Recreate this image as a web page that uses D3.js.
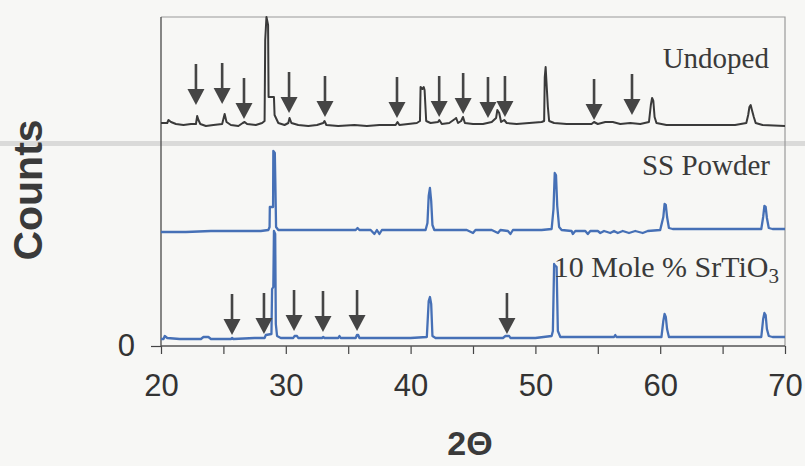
<!DOCTYPE html>
<html>
<head>
<meta charset="utf-8">
<script src="https://cdn.jsdelivr.net/npm/d3@7"></script>
<style>
  body { margin:0; background:#f7f7f5; }
  svg { display:block; }
</style>
</head>
<body>
<div id="chart"></div>
<script>
// 2-theta range and ticks
var xDomain = [20, 70];
var xMajorTicks = [20, 30, 40, 50, 60, 70];
var xMinorTicks = [25, 35, 45, 55, 65];
var yTicks = [0];

// vertical offsets of each pattern (counts, stacked)
var offsets = [221, 115, 7];
var seriesNames = ["Undoped", "SS Powder", "10 Mole % SrTiO3"];

// [2theta, counts above own baseline]
var undoped = [
  [20.0,2],[20.5,2],[20.6,5],[20.8,3],[21.2,1],[21.8,0],[22.4,1],[22.8,1],[22.9,9],[23.0,5],[23.15,1],[23.6,-1],
  [24.2,0],[24.9,1],[25.0,6],[25.1,11],[25.25,3],[25.6,0],[26.2,-1],[26.55,2],[26.7,3],[26.9,1],[27.6,0],
  [28.1,2],[28.3,4],[28.35,85],[28.45,108],[28.58,100],[28.62,28],[29.05,28],[29.1,10],[29.4,2],[29.9,0],
  [30.2,2],[30.3,7],[30.45,2],[31.0,0],[31.8,-1],[32.5,0],[33.0,2],[33.1,4],[33.25,0],[34.2,-1],[35.5,0],
  [36.5,-1],[37.5,0],[38.8,0],[38.95,3],[39.1,0],[39.8,1],[40.5,2],[40.75,4],[40.8,38],[40.95,36],[41.05,38],
  [41.12,35],[41.25,4],[41.6,2],[42.2,3],[42.3,5],[42.5,1],[43.1,2],[43.55,6],[43.65,7],[43.8,2],[44.05,4],
  [44.2,8],[44.35,2],[45.0,1],[45.8,1],[46.5,3],[46.85,7],[46.95,15],[47.1,12],[47.25,3],[47.5,5],[47.7,2],
  [48.5,1],[49.5,2],[50.5,3],[50.7,4],[50.75,48],[50.82,58],[50.9,40],[51.0,18],[51.1,4],[51.5,2],[52.5,1],
  [53.5,1],[54.5,1],[54.7,3],[55.0,1],[55.6,3],[56.2,3],[56.8,1],[57.6,2],[58.4,1],[59.1,3],[59.25,20],
  [59.35,27],[59.45,24],[59.55,8],[59.7,2],[60.5,0],[62,0],[64,0],[66,0],[66.9,2],[67.05,10],[67.15,18],
  [67.25,20],[67.35,15],[67.5,8],[67.65,2],[68.2,0],[70,-1]
];
var ssPowder = [
  [20.0,-1],[22,-1],[24,0],[26,0],[28,0],[28.6,1],[28.7,4],[28.72,24],[28.98,24],[29.0,80],[29.12,78],
  [29.16,50],[29.22,4],[29.4,1],[30.5,1],[32,1],[34,1],[35.6,1],[35.75,3],[35.9,1],[36.8,1],[37.1,-3],
  [37.3,1],[37.5,-3],[37.7,1],[39,1],[40.5,1],[41.2,1],[41.35,8],[41.45,35],[41.55,43],[41.65,30],[41.75,6],
  [41.9,1],[43,1],[44.5,1],[45.0,-2],[45.2,1],[46.5,1],[47,-2],[47.2,1],[47.8,0],[48,-3],[48.2,1],[49,1],
  [50.5,1],[51.3,2],[51.45,22],[51.55,58],[51.65,56],[51.75,25],[51.9,4],[52.1,1],[52.9,0],[53.0,-3],
  [53.2,0],[54.0,0],[54.2,-3],[54.4,0],[55,0],[55.2,-2],[55.5,0],[56,-2],[56.3,0],[56.6,-2],[57,0],
  [57.5,-2],[58,0],[58.6,-2],[59,0],[60.0,1],[60.25,14],[60.35,27],[60.45,26],[60.55,14],[60.7,3],[61,2],
  [63,2],[65,2],[67,2],[68.1,2],[68.25,14],[68.35,25],[68.45,24],[68.55,13],[68.7,3],[69,2],[70,2]
];
var srTiO3 = [
  [20,0],[20.2,0],[20.3,3],[20.5,1],[21.5,0],[23.2,0],[23.4,2],[23.8,2],[24.0,0],[25.6,0],[25.7,1],[25.8,0],
  [27.5,1],[28.3,1],[28.4,4],[28.85,5],[28.9,50],[29.0,52],[29.05,108],[29.15,105],[29.2,15],[29.3,3],
  [29.6,1],[30.6,1],[30.7,3],[30.9,3],[31,1],[32.9,1],[33.0,2],[33.1,1],[34.2,1],[34.3,3],[34.4,1],
  [35.6,1],[35.7,4],[35.8,4],[35.9,1],[38,1],[40,1],[41.3,2],[41.45,38],[41.55,42],[41.65,35],[41.75,3],
  [42,1],[44,1],[46,1],[47.4,1],[47.6,3],[47.9,3],[48.0,1],[50,1],[51.3,3],[51.4,8],[51.5,75],[51.6,73],
  [51.7,72],[51.8,8],[52,2],[54,2],[56.3,2],[56.4,4],[56.5,2],[58,2],[60.1,2],[60.25,18],[60.35,25],
  [60.45,22],[60.55,10],[60.7,2],[63,2],[66,2],[68.1,2],[68.25,20],[68.35,26],[68.45,24],[68.55,10],
  [68.7,3],[69,2],[70,2]
];

// arrow markers: [2theta, counts at tip (above own baseline)]
var undopedArrows = [
  [22.8,20],[24.9,21],[26.65,6],[30.26,12],[33.14,8],[38.91,7],[42.29,8],[44.21,11],[46.2,7],[47.56,8],
  [54.7,5],[57.74,10]
];
var srTiO3Arrows = [[25.69,4],[28.25,5],[30.66,8],[32.98,7],[35.71,8],[47.72,5]];

var width = 805, height = 466;

var svg = d3.select("#chart").append("svg")
    .attr("width", width)
    .attr("height", height);

svg.append("rect")
    .attr("width", width)
    .attr("height", height)
    .attr("fill", "#f7f7f5");

var x = d3.scaleLinear().domain(xDomain).range([161, 785]);
var y = d3.scaleLinear().domain([0, 329]).range([346, 17]);

// scan streak across the page
svg.append("rect")
    .attr("x", 0).attr("y", 141)
    .attr("width", width).attr("height", 5)
    .attr("fill", "#d2d2d2")
    .attr("opacity", 0.8);

// frame
svg.append("path")
    .attr("d", "M" + x(20) + "," + y(329) + "H" + x(70) + "V" + y(0))
    .attr("fill", "none")
    .attr("stroke", "#9a9a9a")
    .attr("stroke-width", 1.2);

// x axis
var xAxis = svg.append("g")
    .attr("transform", "translate(0," + y(0) + ")")
    .call(d3.axisBottom(x)
        .tickValues(xMajorTicks.concat(xMinorTicks))
        .tickSize(8)
        .tickPadding(20)
        .tickFormat(function (d) { return xMajorTicks.indexOf(d) >= 0 ? d : ""; }));
xAxis.select(".domain").remove();
xAxis.selectAll("line").attr("stroke", "#444").attr("stroke-width", 1.2);
xAxis.selectAll("text")
    .attr("fill", "#333")
    .style("font-family", "'Liberation Sans', Arial, sans-serif")
    .style("font-size", "31px");

// y axis
var yAxis = svg.append("g")
    .attr("transform", "translate(" + x(20) + ",0)")
    .call(d3.axisLeft(y).tickValues(yTicks).tickSize(10).tickPadding(16));
yAxis.select(".domain").remove();
yAxis.selectAll("line").attr("stroke", "#444").attr("stroke-width", 1.2);
yAxis.selectAll("text")
    .attr("fill", "#333")
    .style("font-family", "'Liberation Sans', Arial, sans-serif")
    .style("font-size", "31px");

// axis lines
svg.append("line")
    .attr("x1", x(20)).attr("x2", x(70))
    .attr("y1", y(0)).attr("y2", y(0))
    .attr("stroke", "#555").attr("stroke-width", 1.6);
svg.append("line")
    .attr("x1", x(20)).attr("x2", x(20))
    .attr("y1", y(329)).attr("y2", y(0))
    .attr("stroke", "#555").attr("stroke-width", 1.4);

// patterns
var patterns = [
    {data: undoped, off: offsets[0], color: "#3a3a3a", w: 2},
    {data: ssPowder, off: offsets[1], color: "#4670b6", w: 2.3},
    {data: srTiO3, off: offsets[2], color: "#4670b6", w: 2.3}
];
patterns.forEach(function (p) {
    var line = d3.line()
        .x(function (d) { return x(d[0]); })
        .y(function (d) { return y(p.off + d[1]); });
    svg.append("path")
        .datum(p.data)
        .attr("d", line)
        .attr("fill", "none")
        .attr("stroke", p.color)
        .attr("stroke-width", p.w)
        .attr("stroke-linejoin", "round");
});

// arrows
function drawArrows(list, off) {
    var g = svg.append("g").attr("fill", "#454545");
    list.forEach(function (a) {
        var tx = x(a[0]), ty = y(off + a[1]);
        g.append("rect")
            .attr("x", tx - 1.3).attr("y", ty - 41)
            .attr("width", 2.6).attr("height", 28);
        g.append("path")
            .attr("d", "M" + (tx - 8.5) + "," + (ty - 16) + "L" + (tx + 8.5) + "," + (ty - 16) + "L" + tx + "," + ty + "Z");
    });
}
drawArrows(undopedArrows, offsets[0]);
drawArrows(srTiO3Arrows, offsets[2]);

// series labels
var labelFont = "'Liberation Serif', 'Times New Roman', serif";
var labelPos = [[769, 68], [770, 175], [779, 277]];
seriesNames.forEach(function (name, i) {
    var t = svg.append("text")
        .attr("x", labelPos[i][0]).attr("y", labelPos[i][1])
        .attr("text-anchor", "end")
        .attr("fill", "#3a3a3a")
        .style("font-family", labelFont)
        .style("font-size", "29px");
    if (name.slice(-1) === "3") {
        t.style("font-size", "30px");
        t.append("tspan").text(name.slice(0, -1));
        t.append("tspan").attr("dy", 6).style("font-size", "21px").text("3");
    } else {
        t.text(name);
    }
});

// axis titles
svg.append("text")
    .attr("transform", "translate(42,190) rotate(-90)")
    .attr("text-anchor", "middle")
    .attr("fill", "#3a3a3a")
    .style("font-family", "'Liberation Sans', Arial, sans-serif")
    .style("font-weight", "bold")
    .style("font-size", "41px")
    .text("Counts");

svg.append("text")
    .attr("x", 470).attr("y", 455)
    .attr("text-anchor", "middle")
    .attr("fill", "#3a3a3a")
    .style("font-family", "'Liberation Sans', Arial, sans-serif")
    .style("font-weight", "bold")
    .style("font-size", "34px")
    .text("2Θ");
</script>
</body>
</html>
